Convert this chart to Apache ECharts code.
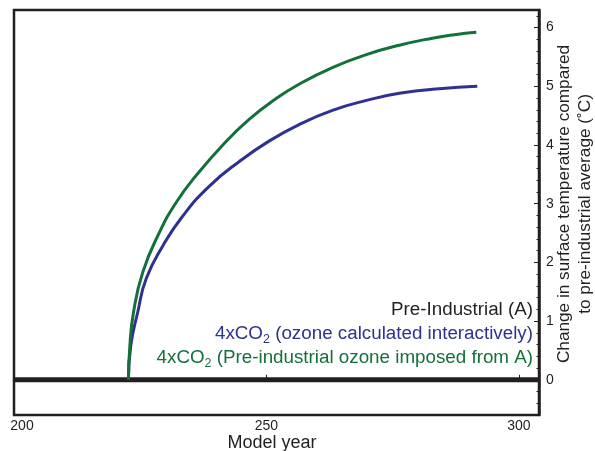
<!DOCTYPE html>
<html>
<head>
<meta charset="utf-8">
<script src="https://cdn.jsdelivr.net/npm/echarts@6/dist/echarts.min.js"></script>
<style>
html,body{margin:0;padding:0;background:#fff;}
#chart{width:595px;height:451px;}
</style>
</head>
<body>
<div id="chart"></div>
<script>
// ---- data ----
var preYears = [200, 225, 250, 275, 304];
var preTemp  = [0, 0, 0, 0, 0];

var blueYears = [222.67, 223.13, 224.51, 226.18, 229.47, 233.43, 238.71, 244.65, 250.59, 256.53, 263.07, 269.80, 276.34, 284.26, 291.78];
var blueTemp  = [0, 0.58, 1.15, 1.72, 2.28, 2.79, 3.30, 3.72, 4.07, 4.35, 4.59, 4.76, 4.88, 4.96, 5.00];

var greenYears = [222.67, 222.95, 223.66, 225.50, 228.81, 232.12, 236.08, 242.02, 246.63, 251.58, 256.53, 263.07, 269.80, 276.34, 282.87, 287.23, 291.58];
var greenTemp  = [0, 0.58, 1.14, 1.83, 2.51, 3.02, 3.48, 4.06, 4.44, 4.77, 5.04, 5.32, 5.54, 5.70, 5.82, 5.88, 5.92];

var xTickLabels = [200, 250, 300];
var yTickLabels = [0, 1, 2, 3, 4, 5, 6];

var seriesNames = ['Pre-Industrial (A)', '4xCO2 (ozone calculated interactively)', '4xCO2 (Pre-industrial ozone imposed from A)'];

function pairs(xs, ys) { return xs.map(function (x, i) { return [x, ys[i]]; }); }

var INK = '#231f20', BLUE = '#2e3192', GREEN = '#12703b';
var FONT = '"Liberation Sans", Arial, sans-serif';
var FS = 18.8;

function richFill(c) {
  return {
    n: {fontSize: FS, lineHeight: 24, fontFamily: FONT, fill: c, color: c},
    s: {fontSize: 12.5, lineHeight: 15, verticalAlign: 'bottom', fontFamily: FONT, fill: c, color: c}
  };
}

var chart = echarts.init(document.getElementById('chart'), null, {renderer: 'canvas'});
chart.setOption({
  animation: false,
  backgroundColor: '#fff',
  grid: {left: 14, right: 56, top: 10, bottom: 36, show: true, borderColor: INK, borderWidth: 2.5, backgroundColor: 'transparent'},
  xAxis: {
    type: 'value', min: 200, max: 304, interval: 50,
    axisLine: {show: true, lineStyle: {color: INK, width: 2.5}},
    axisTick: {show: true, inside: true, length: 5, lineStyle: {color: INK, width: 1}, customValues: [250, 300]},
    axisLabel: {
      color: INK, fontSize: 14, fontFamily: FONT, margin: 4, customValues: xTickLabels,
      formatter: function (v) { return v === 200 ? '{a|' + v + '}' : String(v); },
      rich: {a: {fontSize: 14, fontFamily: FONT, color: INK, padding: [0, 0, 0, 16]}}
    },
    splitLine: {show: false}
  },
  yAxis: [{
    type: 'value', position: 'right', min: -0.6, max: 6.3, interval: 0.2,
    axisLine: {show: true, lineStyle: {color: INK, width: 2.5}},
    axisTick: {show: true, inside: true, length: 2.5, lineStyle: {color: INK, width: 1}},
    axisLabel: {show: false},
    splitLine: {show: false}
  }, {
    type: 'value', position: 'right', min: -0.6, max: 6.3,
    axisLine: {show: false},
    axisTick: {show: true, inside: true, length: 5, lineStyle: {color: INK, width: 1}, customValues: yTickLabels},
    axisLabel: {show: true, color: INK, fontSize: 14, fontFamily: FONT, margin: 7, customValues: yTickLabels},
    splitLine: {show: false}
  }],
  series: [{
    name: seriesNames[0], type: 'line', data: pairs(preYears, preTemp), showSymbol: false,
    lineStyle: {color: INK, width: 5}, z: 3
  }, {
    name: seriesNames[1], type: 'line', data: pairs(blueYears, blueTemp), showSymbol: false,
    smooth: 0.5,
    lineStyle: {color: BLUE, width: 3}, z: 4
  }, {
    name: seriesNames[2], type: 'line', data: pairs(greenYears, greenTemp), showSymbol: false,
    smooth: 0.5,
    lineStyle: {color: GREEN, width: 3}, z: 5
  }],
  graphic: [
    {type: 'text', x: 533, y: 310, z: 100, style: {text: '{n|Pre-Industrial (A)}', rich: richFill(INK), fill: INK, align: 'right', verticalAlign: 'middle'}},
    {type: 'text', x: 533, y: 334, z: 100, style: {text: '{n|4xCO}{s|2}{n| (ozone calculated interactively)}', rich: richFill(BLUE), fill: BLUE, align: 'right', verticalAlign: 'middle'}},
    {type: 'text', x: 533, y: 358, z: 100, style: {text: '{n|4xCO}{s|2}{n| (Pre-industrial ozone imposed from A)}', rich: richFill(GREEN), fill: GREEN, align: 'right', verticalAlign: 'middle'}},
    {type: 'text', x: 272, y: 443, z: 100, style: {text: 'Model year', fill: INK, font: '18px ' + FONT, align: 'center', verticalAlign: 'middle'}},
    {type: 'text', x: 575, y: 204, rotation: Math.PI / 2, z: 100, style: {text: 'Change in surface temperature compared\nto pre-industrial average (\u02DAC)', fill: INK, font: '17.2px ' + FONT, lineHeight: 21, align: 'center', verticalAlign: 'middle'}}
  ]
});
</script>
</body>
</html>
